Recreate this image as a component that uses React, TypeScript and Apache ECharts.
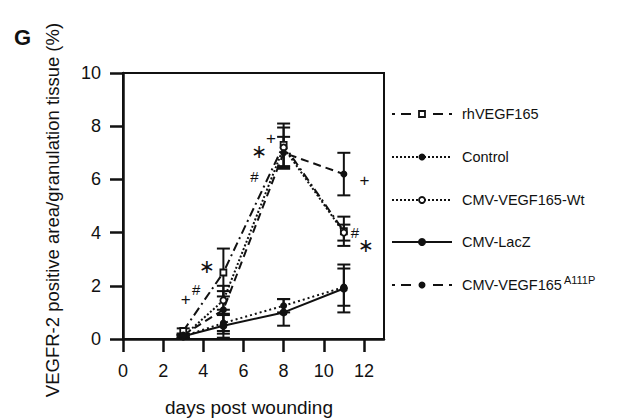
import React, { useEffect, useRef } from "react";
import * as echarts from "echarts";

const days = [3, 5, 8, 11];
const xTicks = [0, 2, 4, 6, 8, 10, 12];
const yTicks = [0, 2, 4, 6, 8, 10];

const seriesNames = ["rhVEGF165", "Control", "CMV-VEGF165-Wt", "CMV-LacZ", "CMV-VEGF165"];
const seriesSup = ["", "", "", "", "A111P"];

const rhVEGF = [0.3, 2.5, 7.3, 4.05];
const rhVEGFErr = [0.1, 0.9, 0.8, 0.55];
const control = [0.1, 0.6, 1.25, 1.95];
const controlErr = [0.05, 0.3, 0.25, 0.7];
const wt = [0.1, 1.45, 7.2, 4.0];
const wtErr = [0.05, 0.35, 0.75, 0.3];
const lacz = [0.1, 0.5, 1.0, 1.9];
const laczErr = [0.05, 0.45, 0.5, 0.9];
const a111p = [0.15, 1.1, 7.0, 6.2];
const a111pErr = [0.05, 0.9, 0.6, 0.8];

const annX = [3.12, 3.65, 4.18, 6.54, 6.79, 7.37, 12.03, 11.55, 12.1];
const annY = [1.5, 1.87, 2.75, 6.12, 7.05, 7.55, 5.97, 4.02, 3.52];
const annSym = ["+", "#", "∗", "#", "∗", "+", "+", "#", "∗"];

const INK = "#111";
const FONT = "'Liberation Sans', Arial, sans-serif";

type Style = { dash: any; legend: string; symbol: string; size: number; hollow: boolean };
const styles: Style[] = [
  { dash: [9, 4, 2, 4], legend: "dashdot", symbol: "rect", size: 6, hollow: true },
  { dash: [2, 3], legend: "dotted", symbol: "circle", size: 7, hollow: false },
  { dash: [2, 2], legend: "dotted", symbol: "circle", size: 6, hollow: true },
  { dash: "solid", legend: "solid", symbol: "circle", size: 8, hollow: false },
  { dash: [8, 5], legend: "dashdot", symbol: "circle", size: 7, hollow: false },
];
const values = [rhVEGF, control, wt, lacz, a111p];
const errs = [rhVEGFErr, controlErr, wtErr, laczErr, a111pErr];

function measure(text: string, font: string): number {
  const c = document.createElement("canvas").getContext("2d");
  if (!c) return text.length * 8;
  c.font = font;
  return c.measureText(text).width;
}

export default function App() {
  const ref = useRef<HTMLDivElement>(null);
  useEffect(() => {
    if (!ref.current) return;
    const chart = echarts.init(ref.current, undefined, { renderer: "svg" });

    const lineSeries: any[] = values.map((vals, i) => ({
      type: "line",
      name: seriesNames[i] + seriesSup[i],
      data: days.map((d, j) => [d, vals[j]]),
      symbol: styles[i].symbol,
      symbolSize: styles[i].size,
      showSymbol: true,
      z: 5,
      lineStyle: { color: INK, width: 2, type: styles[i].dash },
      itemStyle: {
        color: styles[i].hollow ? "#fff" : INK,
        borderColor: INK,
        borderWidth: styles[i].hollow ? 1.8 : 0,
      },
    }));

    const errSeries: any[] = values.map((vals, i) => ({
      type: "custom",
      name: "err" + i,
      z: 4,
      data: days.map((d, j) => [d, vals[j] - errs[i][j], vals[j] + errs[i][j]]),
      renderItem: (params: any, api: any) => {
        const lo = api.coord([api.value(0), api.value(1)]);
        const hi = api.coord([api.value(0), api.value(2)]);
        const w = 6.5;
        const st = { stroke: INK, lineWidth: 2 };
        return {
          type: "group",
          children: [
            { type: "line", shape: { x1: lo[0], y1: lo[1], x2: hi[0], y2: hi[1] }, style: st },
            { type: "line", shape: { x1: lo[0] - w, y1: lo[1], x2: lo[0] + w, y2: lo[1] }, style: st },
            { type: "line", shape: { x1: hi[0] - w, y1: hi[1], x2: hi[0] + w, y2: hi[1] }, style: st },
          ],
        };
      },
    }));

    const annSeries: any = {
      type: "custom",
      name: "annotations",
      z: 6,
      data: annX.map((x, i) => [x, annY[i], i]),
      renderItem: (params: any, api: any) => {
        const p = api.coord([api.value(0), api.value(1)]);
        const s = annSym[api.value(2)];
        const font =
          s === "∗" ? `19px 'DejaVu Sans', sans-serif` : s === "#" ? `15px ${FONT}` : `17px ${FONT}`;
        return {
          type: "text",
          x: p[0],
          y: p[1],
          style: {
            text: s,
            fill: INK,
            font,
            align: "center",
            verticalAlign: "middle",
          },
        };
      },
    };

    // legend drawn as graphic
    const legendX0 = 392;
    const legendX1 = 452;
    const legendTextX = 462;
    const rowY = [114, 157, 200, 242, 285];
    const legendFont = 14.5;
    const dashdotSegs = [[392, 395], [401, 411], [433, 443], [449, 452]];
    const graphics: any[] = [];
    seriesNames.forEach((name, i) => {
      const y = rowY[i];
      const st = styles[i];
      if (st.legend === "dashdot") {
        dashdotSegs.forEach((sg) =>
          graphics.push({
            type: "line",
            shape: { x1: sg[0], y1: y, x2: sg[1], y2: y },
            style: { stroke: INK, lineWidth: 2 },
          })
        );
      } else {
        graphics.push({
          type: "line",
          shape: { x1: legendX0, y1: y, x2: legendX1, y2: y },
          style: {
            stroke: INK,
            lineWidth: 2,
            lineDash: st.legend === "dotted" ? [2, 2] : null,
          },
        });
      }
      const cx = (legendX0 + legendX1) / 2;
      if (st.symbol === "rect") {
        graphics.push({
          type: "rect",
          shape: { x: cx - st.size / 2, y: y - st.size / 2, width: st.size, height: st.size },
          style: { fill: "#fff", stroke: INK, lineWidth: 1.8 },
          z: 10,
        });
      } else {
        graphics.push({
          type: "circle",
          shape: { cx, cy: y, r: st.size / 2 },
          style: { fill: st.hollow ? "#fff" : INK, stroke: INK, lineWidth: st.hollow ? 1.8 : 0 },
          z: 10,
        });
      }
      graphics.push({
        type: "text",
        x: legendTextX,
        y,
        style: {
          text: name,
          fill: INK,
          font: `${legendFont}px ${FONT}`,
          verticalAlign: "middle",
        },
      });
      if (seriesSup[i]) {
        const w = measure(name, `${legendFont}px Liberation Sans`);
        graphics.push({
          type: "text",
          x: legendTextX + w + 2,
          y: y - 5,
          style: {
            text: seriesSup[i],
            fill: INK,
            font: `11px ${FONT}`,
            verticalAlign: "middle",
          },
        });
      }
    });

    graphics.push({
      type: "text",
      x: 14,
      y: 37,
      style: { text: "G", fill: INK, font: `bold 22px ${FONT}`, verticalAlign: "middle" },
    });
    graphics.push({
      type: "text",
      x: 52,
      y: 210,
      rotation: Math.PI / 2,
      style: {
        text: "VEGFR-2 positive area/granulation tissue (%)",
        fill: INK,
        font: `18.5px ${FONT}`,
        align: "center",
        verticalAlign: "middle",
      },
    });
    graphics.push({
      type: "text",
      x: 249,
      y: 407,
      style: {
        text: "days post wounding",
        fill: INK,
        font: `19px ${FONT}`,
        align: "center",
        verticalAlign: "middle",
      },
    });

    chart.setOption({
      animation: false,
      backgroundColor: "#fff",
      grid: {
        left: 123,
        right: 248,
        top: 73,
        bottom: 81,
        show: true,
        borderColor: INK,
        borderWidth: 2,
        backgroundColor: "transparent",
      },
      xAxis: {
        type: "value",
        min: 0,
        max: 13,
        interval: 2,
        splitLine: { show: false },
        axisLine: { show: true, onZero: false, lineStyle: { color: INK, width: 2.5 } },
        axisTick: { show: true, inside: false, length: 13, customValues: xTicks, lineStyle: { color: INK, width: 2.5 } },
        axisLabel: {
          customValues: xTicks,
          color: INK,
          fontSize: 18,
          fontFamily: FONT,
          margin: 23,
        },
      },
      yAxis: {
        type: "value",
        min: 0,
        max: 10,
        interval: 2,
        splitLine: { show: false },
        axisLine: { show: true, onZero: false, lineStyle: { color: INK, width: 2.5 } },
        axisTick: { show: true, inside: false, length: 13, customValues: yTicks, lineStyle: { color: INK, width: 2.5 } },
        axisLabel: {
          customValues: yTicks,
          color: INK,
          fontSize: 18,
          fontFamily: FONT,
          margin: 22,
        },
      },
      graphic: graphics,
      series: [...errSeries, ...lineSeries, annSeries],
    });

    return () => chart.dispose();
  }, []);

  return (
    <div
      ref={ref}
      style={{ position: "absolute", left: 0, top: 0, width: 632, height: 420 }}
    />
  );
}
